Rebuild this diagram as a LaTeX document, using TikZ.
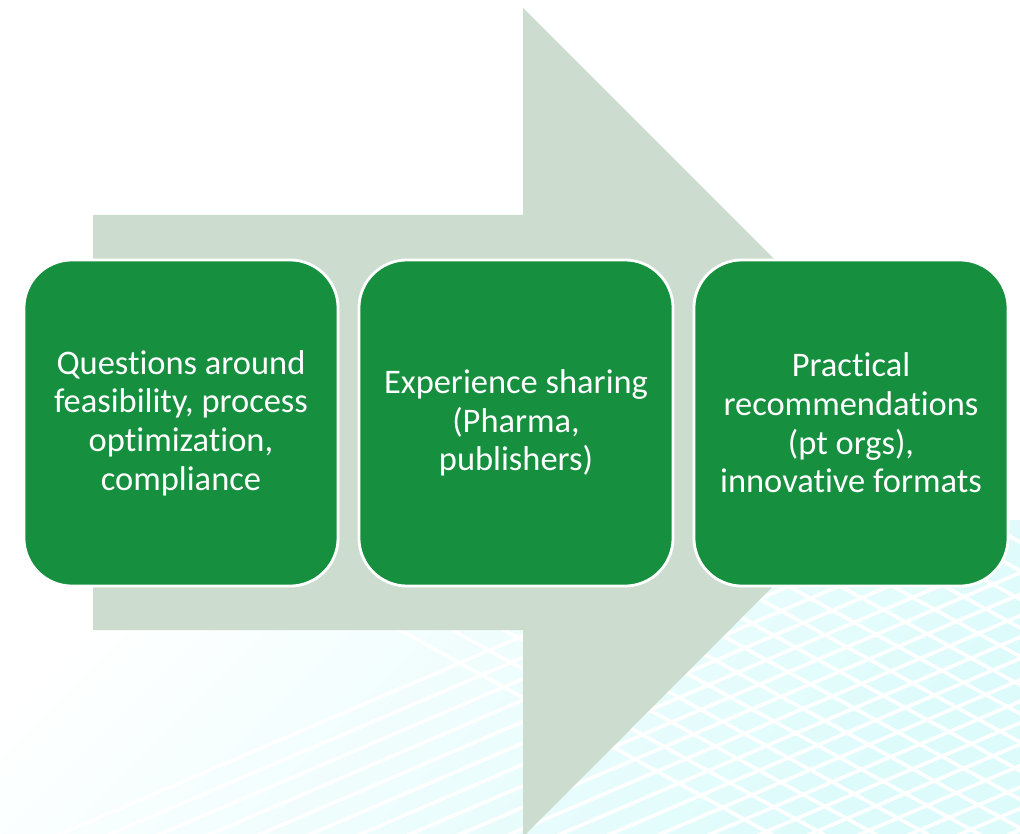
\documentclass[tikz,border=0pt]{standalone}
\usepackage{fontspec}
\setmainfont{Carlito}[Ligatures=NoCommon]
\usetikzlibrary{positioning}
\definecolor{stepgreen}{HTML}{168F3F}
\definecolor{arrowsage}{HTML}{CCDDD0}
\definecolor{meshcyan}{HTML}{DDFBFB}

\begin{document}
\begin{tikzpicture}[x=0.025cm, y=-0.025cm,
    stage/.style={draw=white, line width=2pt, fill=stepgreen,
                  rounded corners=1.2cm, minimum width=7.85cm,
                  minimum height=8.15cm, text=white, align=center,
                  font=\fontsize{24.5}{27.5}\selectfont},
    mesh/.style={white, line width=2.6pt}
  ]
  \useasboundingbox (0,0) rectangle (1020,834);

  % faint mesh in the lower right
  \begin{scope}
    \clip (0,520) rectangle (1020,834);
    \shade[top color=white, bottom color=meshcyan, shading angle=45]
      (0,520) rectangle (1020,834);
    \foreach \k in {0,...,16}
      \draw[mesh] (200+\k*52,520) -- ++(600,330);
    \foreach \k in {0,...,20}
      \draw[mesh] (\k*50,860) -- ++(700,-300);
  \end{scope}

  % big arrow behind the steps
  \fill[arrowsage] (93,215) -- (523,215) -- (523,8) -- (937,422)
    -- (523,837) -- (523,630) -- (93,630) -- cycle;

  \node[stage] (ask)    at (181,423) {Questions around\\feasibility, process\\optimization,\\compliance};
  \node[stage] (share)  at (516,423) {Experience sharing\\(Pharma,\\publishers)};
  \node[stage] (advise) at (851,423) {Practical\\recommendations\\(pt orgs),\\innovative formats};
\end{tikzpicture}
\end{document}
